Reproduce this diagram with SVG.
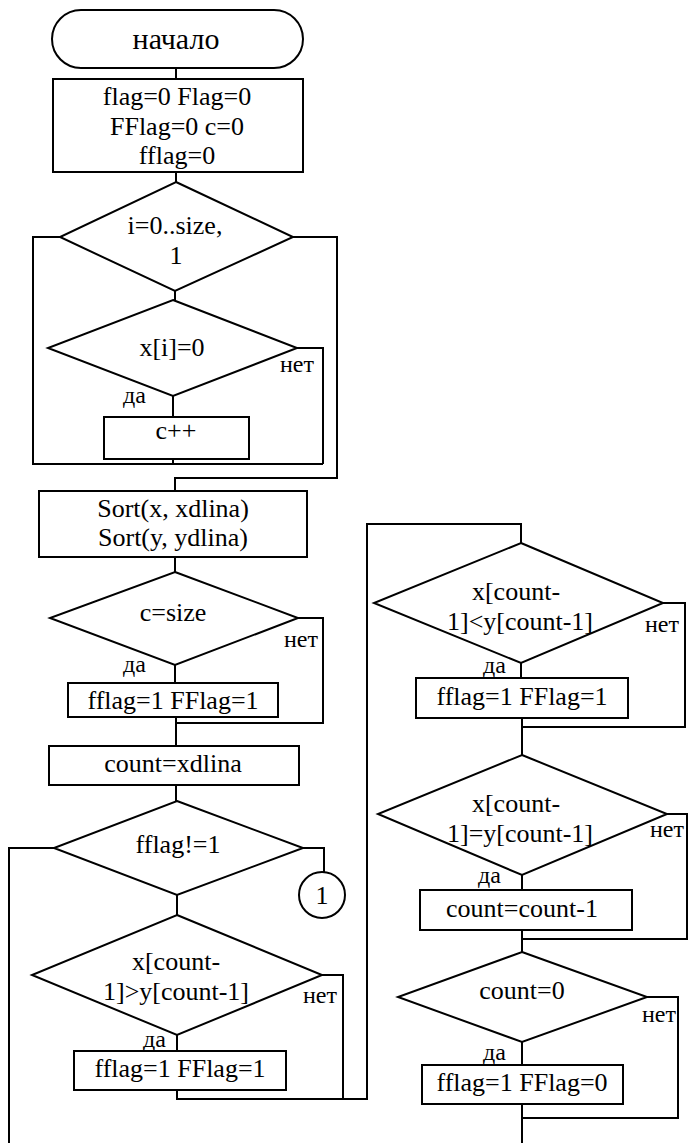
<svg xmlns="http://www.w3.org/2000/svg" width="690" height="1143" viewBox="0 0 690 1143">
  <style>
    .shape { fill: #ffffff; stroke: #000000; stroke-width: 2; }
    .wire { fill: none; stroke: #000000; stroke-width: 2; }
    text { font-family: "Liberation Serif", "Times New Roman", serif; fill: #000000; }
    .t { font-size: 26px; text-anchor: middle; }
    .big { font-size: 30px; text-anchor: middle; }
    .lbl { font-size: 24px; }
    .end { text-anchor: end; }
  </style>
  <rect width="690" height="1143" fill="#ffffff"/>

  <!-- connectors -->
  <g id="connectors">
    <path class="wire" d="M176,68 V79"/>
    <path class="wire" d="M176,172 V182"/>
    <path class="wire" d="M175,291 V300"/>
    <path class="wire" d="M173,396 V417"/>
    <path class="wire" d="M173,459 V464"/>
    <path class="wire" d="M297,348 H323 V464"/>
    <path class="wire" d="M323,464 H33 V237 H60"/>
    <path class="wire" d="M293,237 H337 V478 H175 V491"/>
    <path class="wire" d="M175,557 V572"/>
    <path class="wire" d="M175,665 V683"/>
    <path class="wire" d="M298,618 H323 V723 H176"/>
    <path class="wire" d="M176,717 V746"/>
    <path class="wire" d="M176,785 V801"/>
    <path class="wire" d="M54,848 H9 V1143"/>
    <path class="wire" d="M303,848 H324 V872"/>
    <path class="wire" d="M177,895 V915"/>
    <path class="wire" d="M177,1035 V1051"/>
    <path class="wire" d="M322,975 H343 V1099"/>
    <path class="wire" d="M177,1090 V1099 H367 V524 H521 V543"/>
    <path class="wire" d="M521,663 V678"/>
    <path class="wire" d="M663,603 H685 V727 H522"/>
    <path class="wire" d="M522,718 V755"/>
    <path class="wire" d="M522,875 V890"/>
    <path class="wire" d="M667,814 H687 V939 H522"/>
    <path class="wire" d="M522,930 V952"/>
    <path class="wire" d="M522,1042 V1065"/>
    <path class="wire" d="M647,997 H678 V1118 H522"/>
    <path class="wire" d="M522,1104 V1143"/>
  </g>

  <!-- left column -->
  <g id="start">
    <rect class="shape" x="52" y="10" width="251" height="58" rx="29" ry="29"/>
    <text class="big" x="176" y="49">начало</text>
  </g>

  <g id="init">
    <rect class="shape" x="53" y="79" width="250" height="93"/>
    <text class="t" x="177" y="105">flag=0 Flag=0</text>
    <text class="t" x="177" y="135">FFlag=0 c=0</text>
    <text class="t" x="177" y="164">fflag=0</text>
  </g>

  <g id="loop">
    <polygon class="shape" points="176,182 293,237 175,291 60,237"/>
    <text class="t" x="175" y="234">i=0..size,</text>
    <text class="t" x="176" y="264">1</text>
  </g>

  <g id="test-zero">
    <polygon class="shape" points="173,300 297,348 173,396 48,348"/>
    <text class="t" x="172" y="356">x[i]=0</text>
    <text class="lbl end" x="314" y="372">нет</text>
    <text class="lbl" x="123" y="403">да</text>
  </g>

  <g id="inc-c">
    <rect class="shape" x="104" y="417" width="145" height="42"/>
    <text class="t" x="176" y="439">c++</text>
  </g>

  <g id="sort">
    <rect class="shape" x="39" y="491" width="268" height="66"/>
    <text class="t" x="173" y="517">Sort(x, xdlina)</text>
    <text class="t" x="173" y="546">Sort(y, ydlina)</text>
  </g>

  <g id="test-size">
    <polygon class="shape" points="175,572 298,618 175,665 50,618"/>
    <text class="t" x="173" y="621">c=size</text>
    <text class="lbl end" x="318" y="647">нет</text>
    <text class="lbl" x="123" y="672">да</text>
  </g>

  <g id="set-flags-a">
    <rect class="shape" x="68" y="683" width="210" height="34"/>
    <text class="t" x="173" y="709">fflag=1 FFlag=1</text>
  </g>

  <g id="count-init">
    <rect class="shape" x="49" y="746" width="250" height="39"/>
    <text class="t" x="173" y="772">count=xdlina</text>
  </g>

  <g id="test-fflag">
    <polygon class="shape" points="177,801 303,848 177,895 54,848"/>
    <text class="t" x="178" y="853">fflag!=1</text>
  </g>

  <g id="connector-1">
    <circle class="shape" cx="322" cy="895" r="23"/>
    <text class="t" x="322" y="904">1</text>
  </g>

  <g id="test-greater">
    <polygon class="shape" points="177,915 322,975 177,1035 32,975"/>
    <text class="t" x="176" y="970">x[count-</text>
    <text class="t" x="176" y="1000">1]&gt;y[count-1]</text>
    <text class="lbl end" x="337" y="1003">нет</text>
    <text class="lbl" x="143" y="1047">да</text>
  </g>

  <g id="set-flags-b">
    <rect class="shape" x="74" y="1051" width="212" height="39"/>
    <text class="t" x="180" y="1077">fflag=1 FFlag=1</text>
  </g>

  <!-- right column -->
  <g id="test-less">
    <polygon class="shape" points="521,543 663,603 521,663 374,603"/>
    <text class="t" x="516" y="600">x[count-</text>
    <text class="t" x="520" y="630">1]&lt;y[count-1]</text>
    <text class="lbl end" x="679" y="632">нет</text>
    <text class="lbl" x="483" y="673">да</text>
  </g>

  <g id="set-flags-c">
    <rect class="shape" x="416" y="678" width="212" height="40"/>
    <text class="t" x="522" y="705">fflag=1 FFlag=1</text>
  </g>

  <g id="test-equal">
    <polygon class="shape" points="522,755 667,814 522,875 378,814"/>
    <text class="t" x="516" y="812">x[count-</text>
    <text class="t" x="520" y="842">1]=y[count-1]</text>
    <text class="lbl end" x="684" y="837">нет</text>
    <text class="lbl" x="478" y="883">да</text>
  </g>

  <g id="decrement">
    <rect class="shape" x="420" y="890" width="212" height="40"/>
    <text class="t" x="522" y="917">count=count-1</text>
  </g>

  <g id="test-count">
    <polygon class="shape" points="522,952 647,997 522,1042 398,997"/>
    <text class="t" x="522" y="999">count=0</text>
    <text class="lbl end" x="676" y="1022">нет</text>
    <text class="lbl" x="483" y="1060">да</text>
  </g>

  <g id="set-flags-d">
    <rect class="shape" x="422" y="1065" width="201" height="39"/>
    <text class="t" x="522" y="1091">fflag=1 FFlag=0</text>
  </g>
</svg>
